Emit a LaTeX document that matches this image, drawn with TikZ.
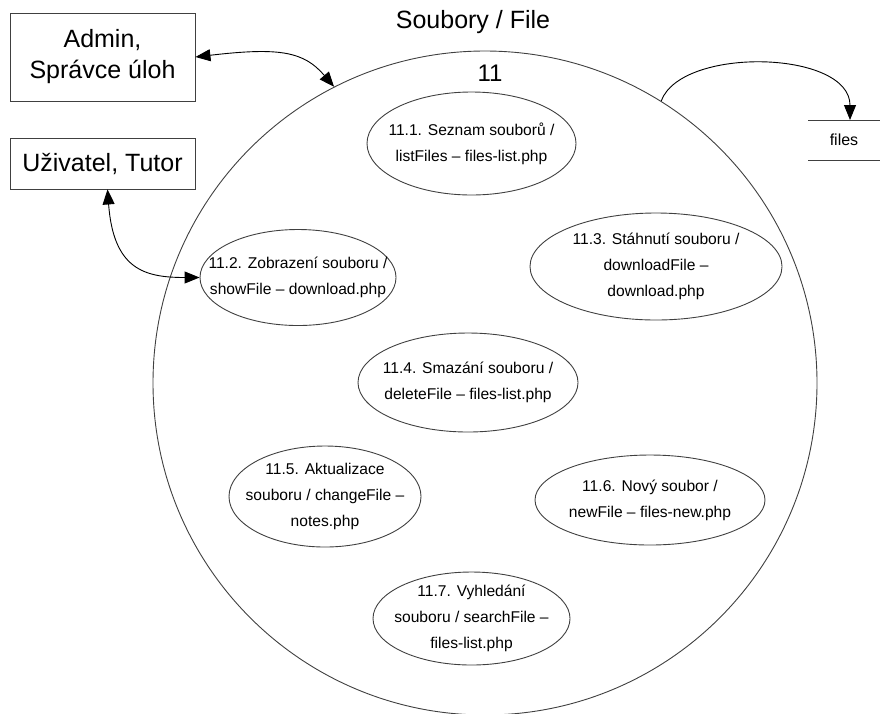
\documentclass[tikz,border=0pt]{standalone}
\usepackage{fontspec}
\setmainfont{Liberation Sans}
\usetikzlibrary{shapes.geometric,arrows.meta}
\tikzset{
  line/.style={draw=black!75, line width=0.9pt},
  ext/.style={line, rectangle, align=center, inner sep=0pt, font=\fontsize{25}{31}\selectfont},
  proc/.style={line, ellipse, inner sep=0pt},
  ptext/.style={align=center, inner sep=0pt, font=\fontsize{15.6}{26}\selectfont},
  flow/.style={draw=black, line width=0.9pt, -{Triangle[length=15pt,width=12pt]}},
  biflow/.style={draw=black, line width=0.9pt, {Triangle[length=15pt,width=12pt]}-{Triangle[length=15pt,width=12pt]}}
}
\begin{document}
\begin{tikzpicture}[x=1pt,y=-1pt]
\useasboundingbox (0,0) rectangle (882,713);

% external entities
\node[ext, minimum width=185, minimum height=88] (admin) at (102.5,57) {Admin,\\Správce úloh};
\node[ext, minimum width=185, minimum height=51] (user) at (102.5,163.5) {Uživatel, Tutor};

% main process
\node[line, circle, minimum size=664, inner sep=0pt] (circ) at (485,383) {};
\node[font=\fontsize{25}{30}\selectfont] (title) at (473,22) {Soubory / File};
\node[font=\fontsize{24}{28}\selectfont] (num) at (490,73) {11};

% sub-processes: outlines
\node[proc, minimum width=209, minimum height=103] (p1) at (471.5,143.5) {};
\node[proc, minimum width=196, minimum height=96] (p2) at (298,277.5) {};
\node[proc, minimum width=252, minimum height=107] (p3) at (656,266.5) {};
\node[proc, minimum width=220, minimum height=99] (p4) at (468,382.5) {};
\node[proc, minimum width=192, minimum height=101] (p5) at (325,496.5) {};
\node[proc, minimum width=230, minimum height=90] (p6) at (650,500) {};
\node[proc, minimum width=197, minimum height=93] (p7) at (471.5,618.5) {};

% sub-processes: labels
\node[ptext] (t1) at (p1) {11.1. Seznam souborů /\\listFiles – files-list.php};
\node[ptext] (t2) at (p2) {11.2. Zobrazení souboru /\\showFile – download.php};
\node[ptext] (t3) at (p3) {11.3. Stáhnutí souboru /\\downloadFile –\\download.php};
\node[ptext] (t4) at (p4) {11.4. Smazání souboru /\\deleteFile – files-list.php};
\node[ptext] (t5) at (p5) {11.5. Aktualizace\\souboru / changeFile –\\notes.php};
\node[ptext] (t6) at (p6) {11.6. Nový soubor /\\newFile – files-new.php};
\node[ptext] (t7) at (p7) {11.7. Vyhledání\\souboru / searchFile –\\files-list.php};

% data store
\node[font=\fontsize{16}{20}\selectfont] (files) at (844,140) {files};
\coordinate (fstop) at (850,120);
\draw[line] (808,120) -- (880,120);
\draw[line] (808,160) -- (880,160);

% data flows
\draw[biflow] (admin.east) .. controls +(85,-10) and +(-30,-35) .. (circ.117);
\draw[biflow] ([xshift=5pt]user.south) .. controls +(6,80) and +(-55,0) .. (p2.west);
\draw[flow] (circ.58) .. controls +(20,-55) and +(0,-70) .. (fstop);
\end{tikzpicture}
\end{document}
